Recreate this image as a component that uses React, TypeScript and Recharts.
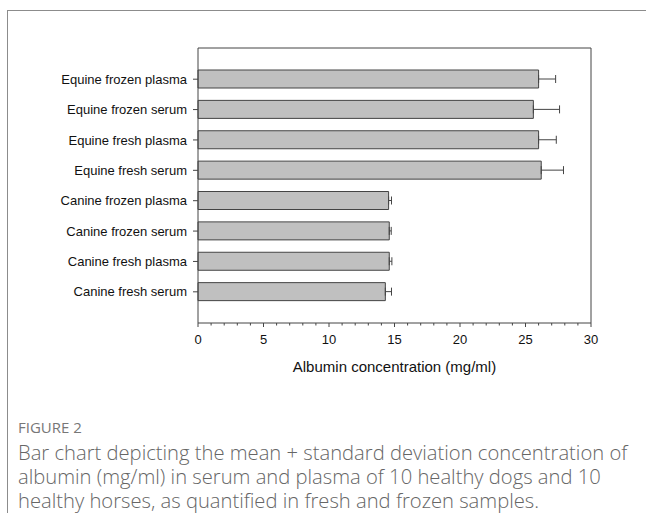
import { BarChart, Bar, XAxis, YAxis, ErrorBar, CartesianGrid } from 'recharts';

// Albumin concentration (mg/ml), mean and SD, top to bottom
const groups = [
  'Equine frozen plasma',
  'Equine frozen serum',
  'Equine fresh plasma',
  'Equine fresh serum',
  'Canine frozen plasma',
  'Canine frozen serum',
  'Canine fresh plasma',
  'Canine fresh serum',
];
const means = [26.0, 25.6, 26.0, 26.2, 14.55, 14.6, 14.6, 14.3];
const sds = [1.3, 2.0, 1.35, 1.7, 0.22, 0.15, 0.2, 0.47];
const xTicks = [0, 5, 10, 15, 20, 25, 30];
const minorTicks = Array.from({ length: 31 }, (_, i) => i);

const data = groups.map((g, i) => ({ group: g, mean: means[i], sd: sds[i] }));

const AXIS = '#444';
const FONT = '"Liberation Sans", Arial, sans-serif';

function XTick({ x, y, payload }: { x?: number; y?: number; payload?: { value: number } }) {
  const v = payload?.value ?? 0;
  const major = xTicks.includes(v);
  return (
    <g>
      <line x1={x} x2={x} y1={y} y2={(y ?? 0) + (major ? 4 : 2.5)} stroke={AXIS} strokeWidth={1} />
      {major && (
        <text x={x} y={(y ?? 0) + 20.5} textAnchor="middle" fontSize={13} fill="#111" fontFamily={FONT}>
          {v}
        </text>
      )}
    </g>
  );
}

type Off = { offset: { top: number; left: number; width: number } };

export default function App() {
  return (
    <div style={{ position: 'absolute', left: 0, top: 0, width: 646, height: 513, background: '#fff', overflow: 'hidden' }}>
      <div
        style={{
          position: 'absolute',
          left: 7,
          top: 10,
          width: 650,
          height: 520,
          borderTop: '1px solid #8c8c8c',
          borderLeft: '1px solid #8c8c8c',
        }}
      />
      <div style={{ position: 'absolute', left: 0, top: 0 }}>
        <BarChart
          width={646}
          height={400}
          data={data}
          layout="vertical"
          margin={{ top: 48, right: 55, left: 0, bottom: 27 }}
        >
          {/* top and right frame of the plot box */}
          <CartesianGrid
            stroke={AXIS}
            horizontalCoordinatesGenerator={({ offset }: Off) => [offset.top]}
            verticalCoordinatesGenerator={({ offset }: Off) => [offset.left + offset.width]}
          />
          <XAxis
            type="number"
            domain={[0, 30]}
            ticks={minorTicks}
            interval={0}
            tickSize={0}
            tickMargin={0}
            tick={<XTick />}
            axisLine={{ stroke: AXIS }}
            height={50}
            label={{
              value: 'Albumin concentration (mg/ml)',
              position: 'insideBottom',
              offset: 1,
              fontSize: 15,
              fill: '#111',
              fontFamily: FONT,
            }}
          />
          <YAxis
            type="category"
            dataKey="group"
            width={198}
            padding={{ top: 16, bottom: 16 }}
            tickSize={5}
            tickMargin={6}
            tick={{ fontSize: 13, fill: '#111', fontFamily: FONT }}
            tickLine={{ stroke: AXIS }}
            axisLine={{ stroke: AXIS }}
            interval={0}
          />
          <Bar dataKey="mean" fill="#c0c0c0" stroke={AXIS} strokeWidth={1} barSize={18} isAnimationActive={false}>
            <ErrorBar
              dataKey={(d: { sd: number }) => [0, d.sd]}
              direction="x"
              width={4}
              stroke={AXIS}
              strokeWidth={1}
              isAnimationActive={false}
            />
          </Bar>
        </BarChart>
      </div>
      <div
        style={{
          position: 'absolute',
          left: 18,
          top: 417,
          width: 622,
          fontFamily: '"Open Sans", sans-serif',
          color: '#666',
        }}
      >
        <div style={{ fontSize: 15, color: '#777', lineHeight: '20px', marginBottom: 3 }}>FIGURE 2</div>
        <div style={{ fontSize: 20.2, lineHeight: '24px', fontWeight: 300 }}>
          Bar chart depicting the mean + standard deviation concentration of albumin (mg/ml) in serum and plasma
          of 10 healthy dogs and 10 healthy horses, as quantified in fresh and frozen samples.
        </div>
      </div>
    </div>
  );
}
